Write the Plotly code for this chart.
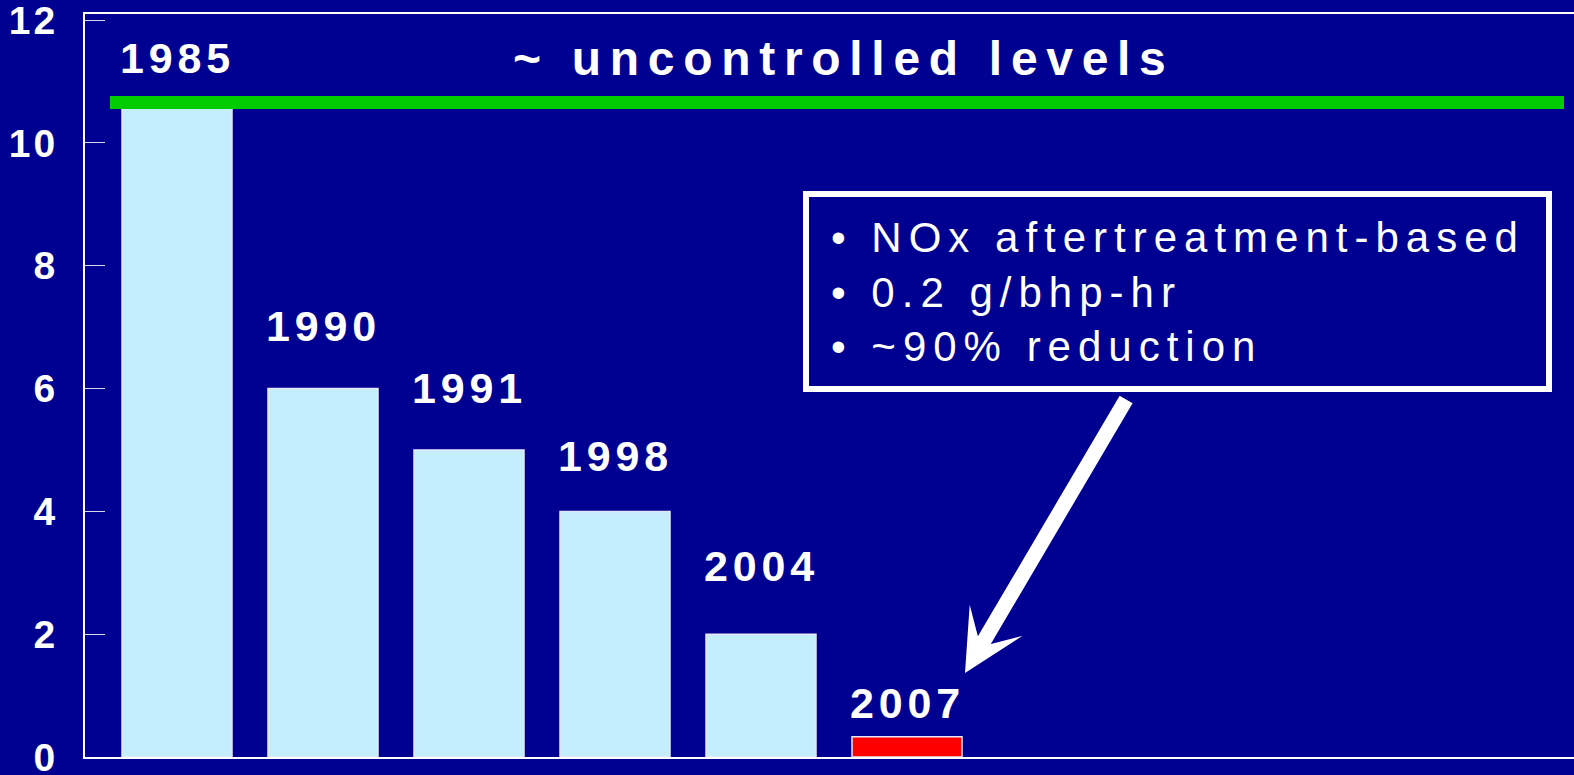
import plotly.graph_objects as go

# ---- data ----
years = ["1985", "1990", "1991", "1998", "2004", "2007"]
nox_levels = [10.6, 6.0, 5.0, 4.0, 2.0, 0.33]
bar_colors = ["#C4EEFE", "#C4EEFE", "#C4EEFE", "#C4EEFE", "#C4EEFE", "#FF0000"]
label_y = [11.38, 7.02, 6.01, 4.90, 3.11, 0.88]
uncontrolled_level = 10.66
y_ticks = [0, 2, 4, 6, 8, 10, 12]
callout_lines = ["• NOx aftertreatment-based", "• 0.2 g/bhp-hr", "• ~90% reduction"]

BG = "#000091"
FONT = "Liberation Sans, Arial, sans-serif"

# layout helpers: pixel positions -> axis units (layout only, not data)
X0_PX, PITCH = 177, 146
Y0_PX, PX_PER_UNIT = 757, 61.4


def px_x(p):
    return (p - X0_PX) / PITCH


def px_y(p):
    return (Y0_PX - p) / PX_PER_UNIT


def spaced(txt, ls):
    return f'<span style="letter-spacing:{ls}px">{txt}</span>'


xpos = list(range(len(years)))

fig = go.Figure()
fig.add_trace(go.Bar(
    x=xpos, y=nox_levels, width=110 / PITCH,
    marker=dict(color=bar_colors, line=dict(color="#E6E6F6", width=1.5)),
    hoverinfo="skip", showlegend=False,
))

# year labels
for i, (yr, ly) in enumerate(zip(years, label_y)):
    fig.add_annotation(x=i, y=ly, xref="x", yref="y", text=spaced(yr, 4.8),
                       showarrow=False, xshift=0,
                       font=dict(family=FONT, size=43, color="white", weight="bold"))

# uncontrolled-level line
fig.add_shape(type="line", xref="x", yref="y", x0=px_x(110), x1=px_x(1564),
              y0=uncontrolled_level, y1=uncontrolled_level,
              line=dict(color="#00CC00", width=13), layer="above")

fig.add_annotation(x=px_x(840), y=11.37, xref="x", yref="y", xshift=4,
                   text=spaced("~ uncontrolled levels", 8.7), showarrow=False,
                   font=dict(family=FONT, size=48, color="white", weight="bold"))

# callout box
fig.add_shape(type="rect", xref="x", yref="y",
              x0=px_x(806), x1=px_x(1549), y0=px_y(389), y1=px_y(194),
              line=dict(color="white", width=6), fillcolor=BG, layer="above")

fig.add_annotation(x=px_x(829), y=7.57, xref="x", yref="y",
                   xanchor="left", align="left",
                   text="<br>".join(spaced(t, 7) for t in callout_lines),
                   showarrow=False,
                   font=dict(family=FONT, size=42, color="white"))

# arrow
fig.add_annotation(x=px_x(965), y=px_y(673), ax=px_x(1127), ay=px_y(398),
                   xref="x", yref="y", axref="x", ayref="y",
                   text="", showarrow=True, arrowhead=3, arrowsize=0.68,
                   arrowwidth=15, arrowcolor="white", standoff=0)

fig.update_layout(
    width=1574, height=775,
    paper_bgcolor=BG, plot_bgcolor=BG,
    margin=dict(l=85, r=0, t=14, b=18, autoexpand=False),
    showlegend=False,
    xaxis=dict(range=[px_x(85), px_x(1574)], showticklabels=False, ticks="",
               showgrid=False, zeroline=False, showline=True, mirror=True,
               linecolor="white", linewidth=2),
    yaxis=dict(range=[0, 12.1], tickvals=y_ticks,
               ticktext=[spaced(str(v), 3) for v in y_ticks],
               ticks="inside", ticklen=20, tickwidth=1, tickcolor="#D8D8E8",
               showgrid=False, zeroline=False, showline=True,
               linecolor="white", linewidth=2, ticklabelstandoff=17,
               ticklabeloverflow="allow", automargin=False,
               tickfont=dict(family=FONT, size=39, color="white", weight="bold")),
)

fig.write_html("out.html", config={"displayModeBar": False},
               post_script="document.body.style.margin='0';document.body.style.background='" + BG + "';")
